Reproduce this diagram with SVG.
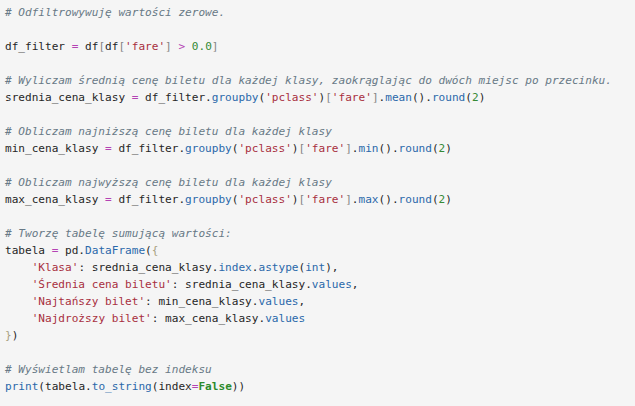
<svg xmlns="http://www.w3.org/2000/svg" width="635" height="406" viewBox="0 0 635 406">
<style>
text{font-family:"DejaVu Sans Mono","Liberation Mono",monospace;font-size:11.08px;fill:#262626;white-space:pre}
.c{fill:#687986;font-style:italic}
.s{fill:#a82f40}
.o{fill:#b443b4}
.n{fill:#358a35}
.f{fill:#2a68aa}
.b{fill:#858585}
.br{fill:#a8a080}
.k{fill:#2c8a2c;font-weight:bold}
</style>
<rect width="635" height="406" fill="#f5f5f5"/>
<g id="code" xml:space="preserve">
<text x="5" y="16" class="c"># Odfiltrowywuję wartości zerowe.</text>
<text x="5" y="50">df_filter <tspan class="o">=</tspan> df<tspan class="b">[</tspan>df<tspan class="b">[</tspan><tspan class="s">'fare'</tspan><tspan class="b">]</tspan> <tspan class="o">&gt;</tspan> <tspan class="n">0.0</tspan><tspan class="b">]</tspan></text>
<text x="5" y="84" class="c"># Wyliczam średnią cenę biletu dla każdej klasy, zaokrąglając do dwóch miejsc po przecinku.</text>
<text x="5" y="101">srednia_cena_klasy <tspan class="o">=</tspan> df_filter.<tspan class="f">groupby</tspan>(<tspan class="s">'pclass'</tspan>)<tspan class="b">[</tspan><tspan class="s">'fare'</tspan><tspan class="b">]</tspan>.<tspan class="f">mean</tspan>().<tspan class="f">round</tspan>(<tspan class="n">2</tspan>)</text>
<text x="5" y="135" class="c"># Obliczam najniższą cenę biletu dla każdej klasy</text>
<text x="5" y="152">min_cena_klasy <tspan class="o">=</tspan> df_filter.<tspan class="f">groupby</tspan>(<tspan class="s">'pclass'</tspan>)<tspan class="b">[</tspan><tspan class="s">'fare'</tspan><tspan class="b">]</tspan>.<tspan class="f">min</tspan>().<tspan class="f">round</tspan>(<tspan class="n">2</tspan>)</text>
<text x="5" y="186" class="c"># Obliczam najwyższą cenę biletu dla każdej klasy</text>
<text x="5" y="203">max_cena_klasy <tspan class="o">=</tspan> df_filter.<tspan class="f">groupby</tspan>(<tspan class="s">'pclass'</tspan>)<tspan class="b">[</tspan><tspan class="s">'fare'</tspan><tspan class="b">]</tspan>.<tspan class="f">max</tspan>().<tspan class="f">round</tspan>(<tspan class="n">2</tspan>)</text>
<text x="5" y="237" class="c"># Tworzę tabelę sumującą wartości:</text>
<text x="5" y="254">tabela <tspan class="o">=</tspan> pd.<tspan class="f">DataFrame</tspan>(<tspan class="br">{</tspan></text>
<text x="5" y="271">    <tspan class="s">'Klasa'</tspan>: srednia_cena_klasy.<tspan class="f">index</tspan>.<tspan class="f">astype</tspan>(<tspan class="f">int</tspan>),</text>
<text x="5" y="288">    <tspan class="s">'Średnia cena biletu'</tspan>: srednia_cena_klasy.<tspan class="f">values</tspan>,</text>
<text x="5" y="305">    <tspan class="s">'Najtańszy bilet'</tspan>: min_cena_klasy.<tspan class="f">values</tspan>,</text>
<text x="5" y="322">    <tspan class="s">'Najdroższy bilet'</tspan>: max_cena_klasy.<tspan class="f">values</tspan></text>
<text x="5" y="339"><tspan class="br">}</tspan>)</text>
<text x="5" y="373" class="c"># Wyświetlam tabelę bez indeksu</text>
<text x="5" y="390"><tspan class="f">print</tspan>(tabela.<tspan class="f">to_string</tspan>(index<tspan class="o">=</tspan><tspan class="k">False</tspan>))</text>
</g>
</svg>
